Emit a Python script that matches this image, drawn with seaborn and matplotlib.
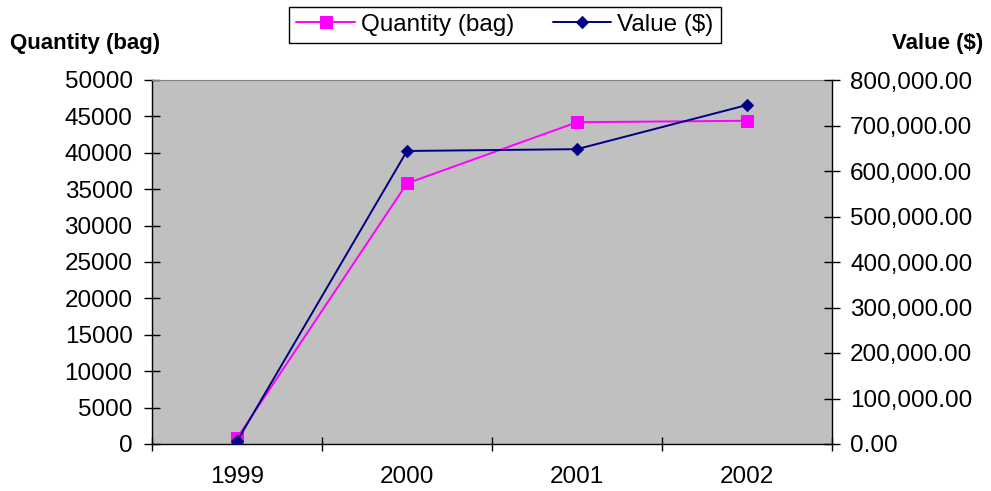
import numpy as np
import pandas as pd
import seaborn as sns
from matplotlib import pyplot as plt
from matplotlib.ticker import FuncFormatter, MultipleLocator

# data
years = ['1999', '2000', '2001', '2002']
quantity = [800, 35800, 44200, 44400]
value = [6000, 644000, 648000, 745000]

df = pd.DataFrame({'pos': np.arange(len(years)), 'year': years,
                   'quantity': quantity, 'value': value})

sns.set_style('white')
plt.rcParams['font.family'] = ['Liberation Sans', 'DejaVu Sans']
plt.rcParams['text.color'] = 'black'
plt.rcParams['xtick.color'] = 'black'
plt.rcParams['ytick.color'] = 'black'

W, H = 991, 491
fig = plt.figure(figsize=(W / 100, H / 100), dpi=100)
ax = fig.add_axes([152 / W, 47 / H, 680 / W, 364 / H])
ax.set_facecolor('#C0C0C0')

# quantity on left axis
sns.lineplot(data=df, x='pos', y='quantity', ax=ax, color='#FF00FF',
             marker='s', markersize=8, markeredgecolor='#FF00FF',
             linewidth=1.4, legend=False)

# value on right axis
ax2 = ax.twinx()
sns.lineplot(data=df, x='pos', y='value', ax=ax2, color='#000080',
             marker='D', markersize=6.5, markeredgecolor='#000080',
             linewidth=1.4, legend=False)

ax.set_xlim(-0.5, len(years) - 0.5)
ax.set_ylim(0, 50000)
ax2.set_ylim(0, 800000)
ax.yaxis.set_major_locator(MultipleLocator(5000))
ax2.yaxis.set_major_locator(MultipleLocator(100000))
ax2.yaxis.set_major_formatter(FuncFormatter(lambda v, p: f'{v:,.2f}'))

# category boundaries as ticks, labels at the centres
ax.set_xticks(np.arange(-0.5, len(years), 1.0))
ax.set_xticklabels([])
ax.set_xticks(df['pos'], minor=True)
ax.set_xticklabels(years, minor=True)

for a in (ax, ax2):
    a.set_xlabel('')
    a.set_ylabel('')
ax.tick_params(axis='y', which='major', direction='inout', length=12, width=1,
               color='black', labelcolor='black', labelsize=17.5, pad=8, left=True)
ax.tick_params(axis='x', which='major', direction='inout', length=10, width=1,
               color='black', bottom=True)
ax.tick_params(axis='x', which='minor', length=0, labelsize=17.5, pad=16,
               labelcolor='black')
ax2.tick_params(axis='y', direction='inout', length=12, width=1,
                color='black', labelcolor='black', labelsize=17.5, pad=7, right=True)

for s in ['left', 'bottom']:
    ax.spines[s].set_color('black')
    ax.spines[s].set_linewidth(1)
ax.spines['top'].set_color('#808080')
ax.spines['right'].set_visible(False)
for s in ['left', 'bottom', 'top']:
    ax2.spines[s].set_visible(False)
ax2.spines['right'].set_color('black')
ax2.spines['right'].set_linewidth(1)

fig.text(10 / W, 1 - 44 / H, 'Quantity (bag)', fontsize=16, weight='bold',
         ha='left', va='center', color='black')
fig.text(983 / W, 1 - 44 / H, 'Value ($)', fontsize=16, weight='bold',
         ha='right', va='center', color='black')

handles = ax.get_lines()[:1] + ax2.get_lines()[:1]
leg = fig.legend(handles, ['Quantity (bag)', 'Value ($)'], loc='center',
                 bbox_to_anchor=(505 / W, 1 - 25 / H), ncol=2, fontsize=17.5,
                 frameon=True, fancybox=False, edgecolor='black', framealpha=1,
                 handlelength=2.4, handletextpad=0.25, columnspacing=1.6,
                 borderpad=0.3, borderaxespad=0)
leg.get_frame().set_linewidth(1)
for t in leg.get_texts():
    t.set_color('black')

fig.savefig('out.png', dpi=100, facecolor='white')
